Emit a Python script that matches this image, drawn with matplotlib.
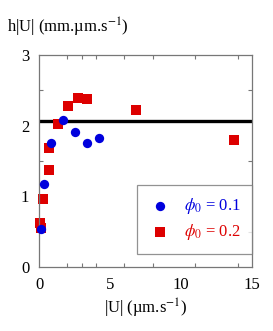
import numpy as np
import matplotlib
matplotlib.use("Agg")
import matplotlib.pyplot as plt

plt.rcParams["font.family"] = ["Liberation Serif", "DejaVu Serif"]
plt.rcParams["mathtext.fontset"] = "stix"

# phi0 = 0.1 (blue circles)
u_01 = [0.14, 0.37, 0.85, 1.67, 2.54, 3.38, 4.22]
hu_01 = [0.54, 1.17, 1.76, 2.08, 1.91, 1.75, 1.83]
# phi0 = 0.2 (red squares)
u_02 = [0.10, 0.15, 0.30, 0.70, 0.70, 1.36, 2.07, 2.72, 3.40, 6.83, 13.7]
hu_02 = [0.62, 0.56, 0.96, 1.38, 1.69, 2.02, 2.28, 2.39, 2.38, 2.22, 1.80]
h_mean = 2.07

BLUE = "#0000dd"
RED = "#dd0000"

fig = plt.figure(figsize=(2.73, 3.31), dpi=100)
ax = fig.add_axes([0.143, 0.193, 0.780, 0.641])

ax.axhline(h_mean, color="black", lw=2.4, zorder=1)
ax.scatter(u_01, hu_01, s=45, marker="o", color=BLUE, lw=0, zorder=3,
           clip_on=False, label=r"$\phi_0$ = 0.1")
ax.scatter(u_02, hu_02, s=55, marker="s", color=RED, lw=0, zorder=2,
           clip_on=False, label=r"$\phi_0$ = 0.2")

ax.set_xlim(0, 15)
ax.set_ylim(0, 3)
ax.set_xticks([0, 5, 10, 15])
ax.set_yticks([0, 1, 2, 3])
ax.set_xticks([2, 3, 4, 5, 6, 8, 11, 14], minor=True)
ax.set_yticks([0.5, 1.5, 2.5], minor=True)
ax.tick_params(which="major", length=0, labelsize=12, pad=7)
ax.tick_params(which="minor", direction="in", length=3, width=0.8,
               color="#777777", top=True, right=True)
for sp in ax.spines.values():
    sp.set_color("#777777")
    sp.set_linewidth(0.9)

ax.set_xlabel("|U| (µm.s$^{-1}$)", fontsize=12, labelpad=3)
fig.text(0.025, 0.918, "h|U| (mm.µm.s$^{-1}$)", fontsize=12, va="center", ha="left")

leg = ax.legend(loc="lower right", bbox_to_anchor=(1.0, 0.062), borderaxespad=0,
                fontsize=12, frameon=True, fancybox=False, handletextpad=0.8,
                borderpad=0.7, labelspacing=0.35, handlelength=1.3)
leg.get_frame().set_edgecolor("#777777")
leg.get_frame().set_linewidth(0.9)
for txt, c in zip(leg.get_texts(), [BLUE, RED]):
    txt.set_color(c)

fig.savefig("out.png", dpi=100)
